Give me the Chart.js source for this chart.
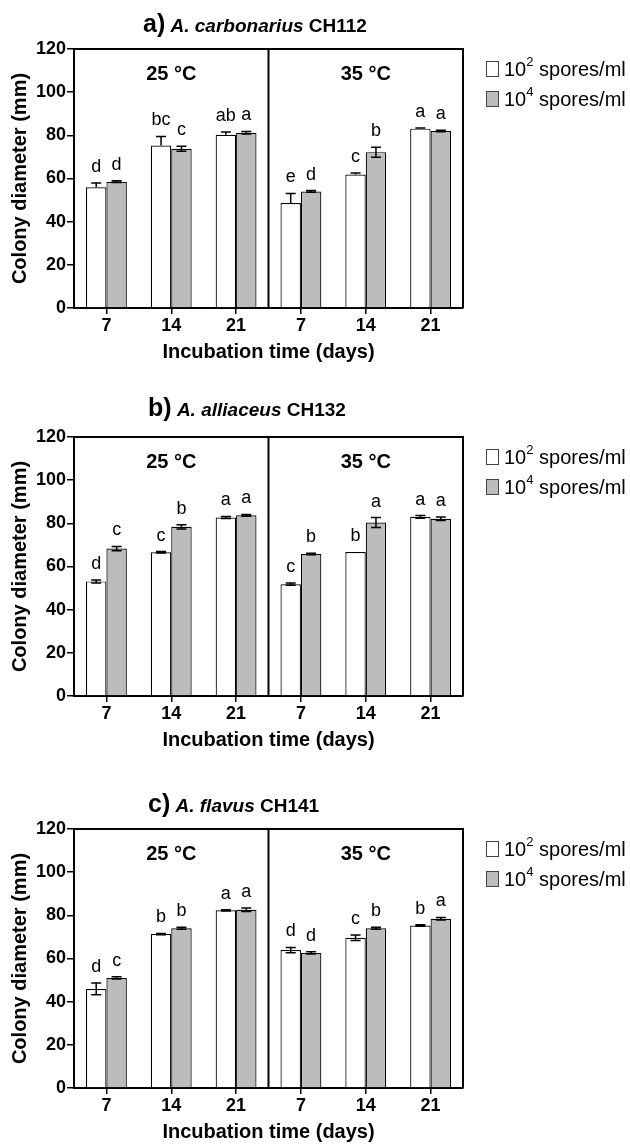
<!DOCTYPE html>
<html>
<head>
<meta charset="utf-8">
<script src="https://cdn.jsdelivr.net/npm/chart.js@4.4.1/dist/chart.umd.min.js"></script>
<style>
body { margin:0; background:#fff; width:630px; height:1144px; position:relative; overflow:hidden; font-family:'Liberation Sans', Arial, sans-serif; color:#000; }
.panel { position:absolute; left:0; width:630px; height:364px; }
.panel canvas { position:absolute; left:0; top:0; }
.title { position:absolute; font-weight:bold; font-size:19px; white-space:nowrap; line-height:30px; }
.title .tag { font-size:25px; }
.row { position:absolute; left:486px; display:flex; align-items:center; height:20px; white-space:nowrap; font-size:20px; }
.box { width:11px; height:14px; border:1px solid #444; margin-right:5px; }
.sup { font-size:13px; position:relative; top:-8px; }
</style>
</head>
<body>

<div class="panel" style="top:0px">
  <canvas id="chartA" width="630" height="364"></canvas>
  <div class="title" style="left:143px; top:8px"><span class="tag">a)</span> <i>A. carbonarius</i> CH112</div>
  <div class="row" style="top:59px"><div class="box" style="background:#fff"></div>10<span class="sup">2</span>&nbsp;spores/ml</div>
  <div class="row" style="top:89px"><div class="box" style="background:#bcbcbc"></div>10<span class="sup">4</span>&nbsp;spores/ml</div>
</div>

<div class="panel" style="top:388px">
  <canvas id="chartB" width="630" height="364"></canvas>
  <div class="title" style="left:148px; top:4px"><span class="tag">b)</span> <i>A. alliaceus</i> CH132</div>
  <div class="row" style="top:59px"><div class="box" style="background:#fff"></div>10<span class="sup">2</span>&nbsp;spores/ml</div>
  <div class="row" style="top:89px"><div class="box" style="background:#bcbcbc"></div>10<span class="sup">4</span>&nbsp;spores/ml</div>
</div>

<div class="panel" style="top:780px">
  <canvas id="chartC" width="630" height="364"></canvas>
  <div class="title" style="left:148px; top:8px"><span class="tag">c)</span> <i>A. flavus</i> CH141</div>
  <div class="row" style="top:59px"><div class="box" style="background:#fff"></div>10<span class="sup">2</span>&nbsp;spores/ml</div>
  <div class="row" style="top:89px"><div class="box" style="background:#bcbcbc"></div>10<span class="sup">4</span>&nbsp;spores/ml</div>
</div>

<script>
const days = ['7', '14', '21', '7', '14', '21'];
const temps = ['25 °C', '35 °C'];
const seriesNames = ['10² spores/ml', '10⁴ spores/ml'];

// a) A. carbonarius CH112
const aLow = [55.9, 75.3, 80.3, 48.6, 61.8, 83.1];
const aLowErr = [2.0, 4.2, 1.2, 4.5, 0.8, 0.3];
const aHigh = [58.5, 73.8, 81.2, 54.0, 72.2, 82.0];
const aHighErr = [0.4, 1.2, 0.6, 0.4, 2.3, 0.3];
const aLowLetters = ['d', 'bc', 'ab', 'e', 'c', 'a'];
const aHighLetters = ['d', 'c', 'a', 'd', 'b', 'a'];

// b) A. alliaceus CH132
const bLow = [53.1, 66.6, 82.7, 51.8, 66.7, 83.0];
const bLowErr = [0.7, 0.3, 0.5, 0.5, 0, 0.6];
const bHigh = [68.3, 78.4, 83.7, 65.8, 80.4, 82.1];
const bHighErr = [1.0, 1.0, 0.4, 0.3, 2.3, 0.8];
const bLowLetters = ['d', 'c', 'a', 'c', 'b', 'a'];
const bHighLetters = ['c', 'b', 'a', 'b', 'a', 'a'];

// c) A. flavus CH141
const cLow = [45.9, 71.3, 82.3, 63.9, 69.6, 75.3];
const cLowErr = [2.7, 0.3, 0.3, 1.2, 1.3, 0.3];
const cHigh = [51.0, 74.0, 82.6, 62.6, 74.0, 78.4];
const cHighErr = [0.5, 0.5, 0.8, 0.5, 0.5, 0.6];
const cLowLetters = ['d', 'b', 'a', 'd', 'c', 'b'];
const cHighLetters = ['c', 'b', 'a', 'd', 'b', 'a'];

const FONT = "'Liberation Sans', Arial, sans-serif";
Chart.defaults.font.family = FONT;
Chart.defaults.color = '#000';

// error bars, letters, frame and temperature labels
const panelDecor = {
  id: 'panelDecor',
  afterDatasetsDraw(chart, args, opts) {
    const ctx = chart.ctx;
    const area = chart.chartArea;
    const x = chart.scales.x, y = chart.scales.y;
    ctx.save();
    ctx.strokeStyle = '#000';
    ctx.fillStyle = '#000';
    opts.errs.forEach(function(errs, d) {
      const meta = chart.getDatasetMeta(d);
      meta.data.forEach(function(bar, i) {
        const v = chart.data.datasets[d].data[i];
        const e = errs[i];
        const top = y.getPixelForValue(v + e);
        if (e > 0) {
          const bot = opts.oneSided[d] ? y.getPixelForValue(v) : y.getPixelForValue(v - e);
          ctx.lineWidth = 1.5;
          ctx.beginPath();
          ctx.moveTo(bar.x, top); ctx.lineTo(bar.x, bot);
          ctx.moveTo(bar.x - 5, top); ctx.lineTo(bar.x + 5, top);
          if (!opts.oneSided[d]) { ctx.moveTo(bar.x - 5, bot); ctx.lineTo(bar.x + 5, bot); }
          ctx.stroke();
        }
        ctx.font = '18px ' + FONT;
        ctx.textAlign = 'center';
        ctx.textBaseline = 'alphabetic';
        ctx.fillText(opts.letters[d][i], bar.x, top - 11);
      });
    });
    ctx.lineWidth = 2;
    const mid = (x.getPixelForValue(2) + x.getPixelForValue(3)) / 2;
    ctx.beginPath();
    ctx.moveTo(area.left, area.top); ctx.lineTo(area.right, area.top); ctx.lineTo(area.right, area.bottom);
    ctx.moveTo(mid, area.top); ctx.lineTo(mid, area.bottom);
    ctx.stroke();
    ctx.font = 'bold 20px ' + FONT;
    ctx.textAlign = 'center';
    ctx.textBaseline = 'middle';
    temps.forEach(function(t, k) {
      ctx.fillText(t, x.getPixelForValue(1 + 3 * k), y.getPixelForValue(108));
    });
    ctx.restore();
  }
};

function makePanel(id, low, lowErr, high, highErr, lowLetters, highLetters, oneSided) {
  const el = document.getElementById(id).getContext('2d');
  return new Chart(el, {
    type: 'bar',
    data: {
      labels: days,
      datasets: [
        { label: seriesNames[0], data: low, backgroundColor: '#ffffff', borderColor: '#000', borderWidth: 1.2,
          categoryPercentage: 0.63, barPercentage: 1 },
        { label: seriesNames[1], data: high, backgroundColor: '#bcbcbc', borderColor: '#000', borderWidth: 1.2,
          categoryPercentage: 0.63, barPercentage: 1 }
      ]
    },
    options: {
      responsive: false,
      animation: false,
      layout: { padding: { top: 49, left: 0, right: 167, bottom: 0 } },
      plugins: {
        legend: { display: false },
        tooltip: { enabled: false },
        panelDecor: { errs: [lowErr, highErr], letters: [lowLetters, highLetters], oneSided: oneSided }
      },
      scales: {
        x: {
          grid: { offset: false, drawOnChartArea: false, tickLength: 6, color: '#000', lineWidth: 1.5 },
          border: { color: '#000', width: 2 },
          ticks: { color: '#000', font: { weight: 'bold', size: 18 }, padding: 1, maxRotation: 0 },
          title: { display: true, text: 'Incubation time (days)', color: '#000',
                   font: { weight: 'bold', size: 20 }, padding: { top: 0, bottom: 0 } },
          afterFit: function(s) { s.height = 56; }
        },
        y: {
          min: 0, max: 120,
          ticks: { stepSize: 20, color: '#000', font: { weight: 'bold', size: 18 }, padding: 1 },
          grid: { drawOnChartArea: false, tickLength: 7, color: '#000', lineWidth: 1.5 },
          border: { color: '#000', width: 2 },
          title: { display: true, text: 'Colony diameter (mm)', color: '#000',
                   font: { weight: 'bold', size: 20 }, padding: { top: 8, bottom: 0 } },
          afterFit: function(s) { s.width = 74; }
        }
      }
    },
    plugins: [panelDecor]
  });
}

makePanel('chartA', aLow, aLowErr, aHigh, aHighErr, aLowLetters, aHighLetters, [true, false]);
makePanel('chartB', bLow, bLowErr, bHigh, bHighErr, bLowLetters, bHighLetters, [false, false]);
makePanel('chartC', cLow, cLowErr, cHigh, cHighErr, cLowLetters, cHighLetters, [false, false]);
</script>
</body>
</html>
